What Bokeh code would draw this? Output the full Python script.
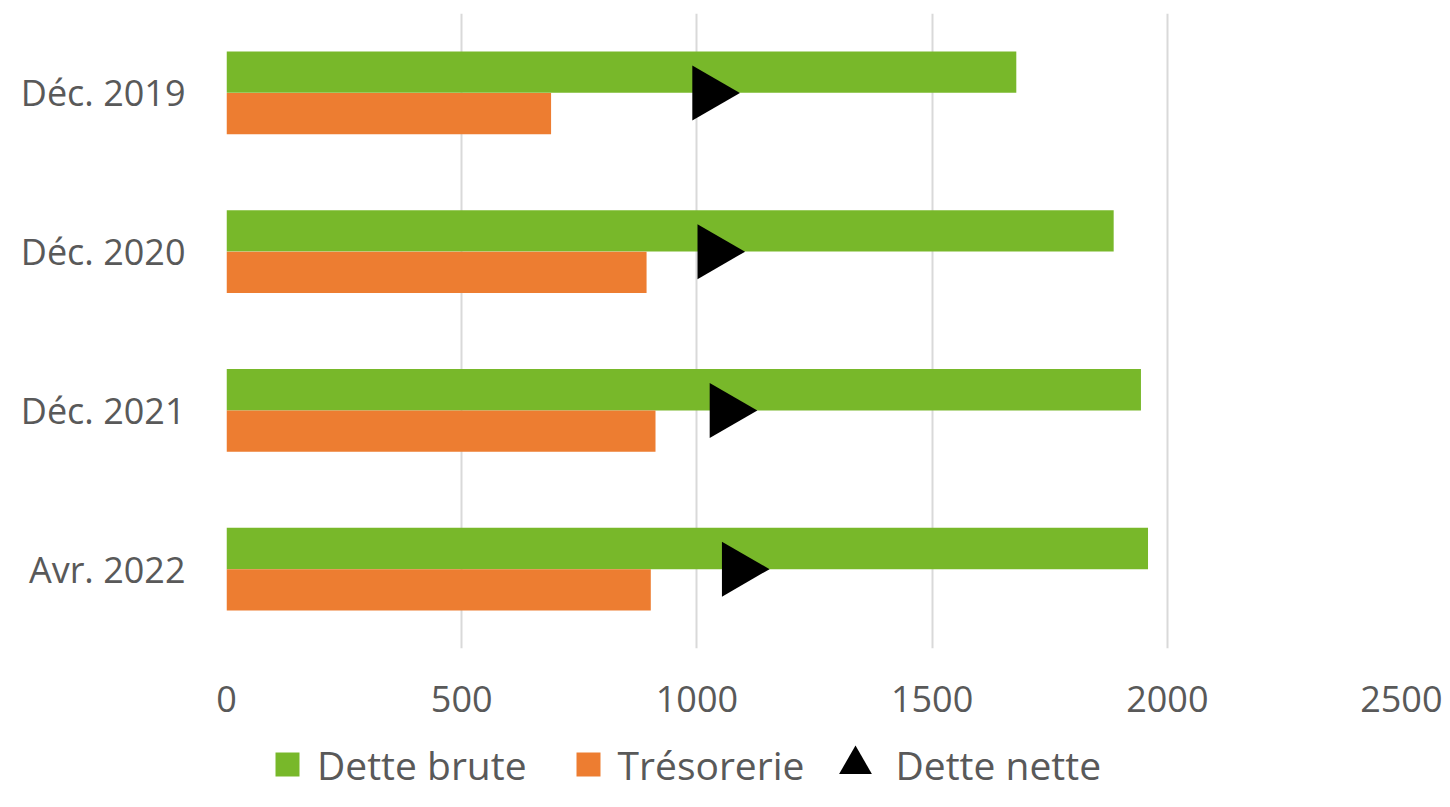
import math
from bokeh.plotting import figure
from bokeh.layouts import column
from bokeh.models import (ColumnDataSource, FactorRange, Range1d, FixedTicker,
                          Legend, LegendItem)
from bokeh.transform import dodge
from bokeh.embed import file_html
from bokeh.resources import INLINE

# ---- data ----
categories = ["Déc. 2019", "Déc. 2020", "Déc. 2021", "Avr. 2022"]
dette_brute = [1679, 1886, 1944, 1959]
tresorerie = [690, 893, 912, 902]
dette_nette = [991, 1002, 1028, 1054]
x_ticks = [0, 500, 1000, 1500, 2000, 2500]
series_labels = ["Dette brute", "Trésorerie", "Dette nette"]

GREEN = "#78b82a"
ORANGE = "#ed7d31"
TEXT = "#595959"
FONT = "Open Sans"

src = ColumnDataSource(dict(cat=categories, brute=dette_brute,
                            treso=tresorerie, nette=dette_nette))

p = figure(width=1442, height=735,
           y_range=FactorRange(factors=categories[::-1], range_padding=0),
           x_range=Range1d(0, 2500),
           output_backend="svg", toolbar_location=None,
           min_border_left=226, min_border_right=40,
           min_border_top=13, min_border_bottom=87)

p.outline_line_color = None

p.hbar(y=dodge("cat", 0.13, range=p.y_range), left=0, right="brute",
       height=0.26, fill_color=GREEN, line_color=None, source=src)
p.hbar(y=dodge("cat", -0.13, range=p.y_range), left=0, right="treso",
       height=0.26, fill_color=ORANGE, line_color=None, source=src)
p.scatter(x=dodge("nette", 33, range=p.x_range), y="cat", marker="triangle",
          size=55, angle=-math.pi / 2, fill_color="black", line_color=None,
          source=src)

# axes
p.xaxis.ticker = FixedTicker(ticks=x_ticks)
p.xgrid.ticker = FixedTicker(ticks=x_ticks)
p.xgrid.grid_line_color = "#d9d9d9"
p.xgrid.grid_line_width = 2
p.ygrid.grid_line_color = None

for ax in (p.xaxis, p.yaxis):
    ax.axis_line_color = None
    ax.major_tick_line_color = None
    ax.minor_tick_line_color = None
    ax.major_label_text_font = FONT
    ax.major_label_text_font_size = "36px"
    ax.major_label_text_color = TEXT
p.xaxis.major_label_standoff = 31
p.yaxis.major_label_standoff = 35

# ---- legend strip below the chart ----
leg = figure(width=1442, height=56, x_range=Range1d(0, 1), y_range=Range1d(0, 1),
             output_backend="svg", toolbar_location=None,
             x_axis_location=None, y_axis_location=None, min_border=0)
leg.outline_line_color = None
leg.grid.visible = False

# legend-only renderers (their single point lies outside the visible range)
lg_brute = leg.scatter(x=[-5], y=[-5], size=0, marker="square", fill_color=GREEN, line_color=None)
lg_treso = leg.scatter(x=[-5], y=[-5], size=0, marker="square", fill_color=ORANGE, line_color=None)
lg_nette = leg.scatter(x=[-5], y=[-5], size=0, marker="triangle", fill_color="black", line_color=None)

common = dict(orientation="horizontal", padding=0, margin=0,
              border_line_color=None, background_fill_alpha=0,
              label_text_font=FONT, label_text_font_size="39px",
              label_text_color=TEXT)
legA = Legend(items=[LegendItem(label=series_labels[0], renderers=[lg_brute]),
                     LegendItem(label=series_labels[1], renderers=[lg_treso])],
              location=(31, -3), glyph_width=60, glyph_height=60,
              label_standoff=0, spacing=31, **common)
legB = Legend(items=[LegendItem(label=series_labels[2], renderers=[lg_nette])],
              location=(587.5, -14), glyph_width=82, glyph_height=82,
              label_standoff=0, spacing=0, **common)
leg.add_layout(legA)
leg.add_layout(legB)

layout = column(p, leg, spacing=0)
open("out.html", "w").write(file_html(layout, INLINE))
